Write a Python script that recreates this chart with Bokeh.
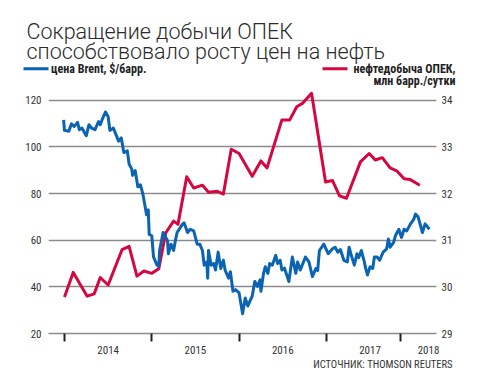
from bokeh.plotting import figure
from bokeh.layouts import column
from bokeh.models import Range1d, LinearAxis, FixedTicker
from bokeh.core.properties import value
from bokeh.embed import file_html
from bokeh.resources import INLINE

# ---------------- data ----------------
brent_x = [2013.99, 2014.00, 2014.05, 2014.08, 2014.11, 2014.15, 2014.17, 2014.20, 2014.25, 2014.28,
           2014.31, 2014.35, 2014.39, 2014.41, 2014.43, 2014.47, 2014.50, 2014.52, 2014.56, 2014.59,
           2014.62, 2014.65, 2014.68, 2014.72, 2014.74, 2014.77, 2014.78, 2014.81, 2014.84, 2014.87,
           2014.90, 2014.92, 2014.94, 2014.96, 2014.97, 2015.00, 2015.02, 2015.06, 2015.08, 2015.09,
           2015.13, 2015.18, 2015.19, 2015.22, 2015.25, 2015.27, 2015.29, 2015.35, 2015.37, 2015.41,
           2015.44, 2015.48, 2015.52, 2015.55, 2015.58, 2015.60, 2015.63, 2015.64, 2015.65, 2015.68,
           2015.71, 2015.73, 2015.76, 2015.79, 2015.82, 2015.84, 2015.88, 2015.90, 2015.93, 2015.96,
           2016.00, 2016.04, 2016.07, 2016.10, 2016.15, 2016.18, 2016.21, 2016.24, 2016.25, 2016.28,
           2016.30, 2016.33, 2016.35, 2016.38, 2016.42, 2016.44, 2016.47, 2016.49, 2016.52, 2016.57,
           2016.61, 2016.65, 2016.67, 2016.70, 2016.76, 2016.80, 2016.84, 2016.88, 2016.90, 2016.92,
           2016.97, 2017.02, 2017.07, 2017.10, 2017.13, 2017.16, 2017.20, 2017.24, 2017.26, 2017.28,
           2017.32, 2017.35, 2017.37, 2017.40, 2017.43, 2017.45, 2017.47, 2017.50, 2017.53, 2017.55,
           2017.58, 2017.61, 2017.65, 2017.69, 2017.71, 2017.73, 2017.77, 2017.79, 2017.83, 2017.86,
           2017.89, 2017.92, 2017.96, 2018.00, 2018.02, 2018.05, 2018.10, 2018.13, 2018.18]
brent_usd = [111.6, 107.1, 106.7, 109.9, 108.8, 110.5, 107.4, 108.1, 104.8, 109.5,
             108.1, 107.4, 110.9, 109.5, 111.6, 115.0, 113.0, 107.1, 108.1, 105.3,
             102.5, 103.9, 97.6, 98.3, 92.7, 90.6, 87.8, 89.9, 82.9, 83.8,
             79.4, 75.2, 70.9, 73.0, 62.5, 61.9, 52.8, 49.3, 48.9, 55.7,
             63.3, 59.8, 54.2, 58.3, 55.6, 59.8, 63.3, 66.8, 67.5, 63.3,
             64.7, 64.0, 58.3, 58.3, 55.6, 49.3, 50.7, 43.7, 55.6, 49.3,
             50.0, 47.2, 54.9, 47.9, 51.4, 47.2, 43.7, 46.5, 38.1, 38.8,
             37.4, 28.5, 35.2, 31.8, 36.0, 42.3, 40.2, 43.0, 38.1, 45.8,
             48.6, 45.8, 50.0, 49.3, 53.5, 50.0, 51.4, 47.2, 48.0, 42.3,
             52.8, 45.8, 50.7, 47.2, 52.8, 50.7, 44.4, 47.9, 47.0, 55.6,
             58.3, 54.2, 56.3, 57.0, 54.9, 56.0, 51.4, 50.7, 57.0, 54.2,
             49.3, 54.2, 52.5, 55.6, 51.4, 47.9, 45.1, 48.6, 47.9, 52.8,
             52.8, 51.4, 54.9, 56.3, 60.5, 57.0, 59.1, 61.9, 64.7, 61.2,
             64.7, 64.0, 66.8, 68.9, 71.2, 70.0, 63.3, 67.0, 64.7]

opec_x = [2014.00, 2014.10, 2014.26, 2014.34, 2014.41, 2014.50, 2014.66, 2014.74, 2014.83, 2014.91,
          2015.00, 2015.08, 2015.16, 2015.25, 2015.30, 2015.40, 2015.48, 2015.58, 2015.65, 2015.75,
          2015.82, 2015.91, 2016.00, 2016.15, 2016.25, 2016.32, 2016.49, 2016.58, 2016.66, 2016.73,
          2016.83, 2016.99, 2017.07, 2017.15, 2017.23, 2017.39, 2017.49, 2017.56, 2017.64, 2017.73,
          2017.81, 2017.89, 2017.96, 2018.07]
opec_mbd = [29.78, 30.31, 29.80, 29.85, 30.20, 30.04, 30.80, 30.87, 30.23, 30.34,
            30.29, 30.39, 31.16, 31.41, 31.34, 32.36, 32.12, 32.18, 32.03, 32.05,
            31.99, 32.95, 32.86, 32.37, 32.70, 32.55, 33.58, 33.58, 33.86, 33.94,
            34.15, 32.25, 32.28, 31.95, 31.90, 32.68, 32.86, 32.72, 32.77, 32.55,
            32.48, 32.32, 32.30, 32.18]

left_ticks = [20, 40, 60, 80, 100, 120]
right_ticks = [29, 30, 31, 32, 33, 34]
year_bounds = [2014.0, 2015.0, 2016.0, 2017.0, 2017.85]
year_label_pos = [2014.5, 2015.5, 2016.5, 2017.5, 2018.17]
year_labels = ["2014", "2015", "2016", "2017", "2018"]

title_lines = ["Сокращение добычи ОПЕК", "способствовало росту цен на нефть"]
brent_label = "цена Brent, $/барр."
opec_label = ["нефтедобыча ОПЕК,", "млн барр./сутки"]
source_label = "ИСТОЧНИК: THOMSON REUTERS"

# ---------------- styling ----------------
BLUE = "#0b63b3"
RED = "#d6063f"
GRID = "#8c8c8c"
TXT = "#333333"
NARROW = "Liberation Sans Narrow, Roboto Condensed, Liberation Sans"
TITLE_FONT = "Roboto Light, Roboto"

W = 481
HEAD_H = 90          # header band (title + legend)
CHART_H = 266        # chart band: frame 90..338, axis below to 356
FOOT_H = 380 - HEAD_H - CHART_H
FL, FR = 48, 436
PX_PER_UNIT = 2.38   # px per $ on the left scale

X0, X1 = 2013.817, 2018.261
Y0 = 20.0
Y1 = Y0 + (338 - HEAD_H) / PX_PER_UNIT
R0 = 29.0
R1 = R0 + (Y1 - Y0) / 20.0


def no_align(f):
    try:
        f.frame_align = False
    except Exception:
        pass
    return f


def blank(h):
    f = figure(width=W, height=h, output_backend="svg", toolbar_location=None,
               x_range=Range1d(0, W), y_range=Range1d(h, 0),
               x_axis_type=None, y_axis_type=None,
               min_border=0, min_border_left=0, min_border_right=0,
               min_border_top=0, min_border_bottom=0)
    f.outline_line_color = None
    f.grid.visible = False
    f.background_fill_color = "white"
    f.border_fill_color = "white"
    return no_align(f)


# ---------------- header ----------------
head = blank(HEAD_H)
head.text(x=[26, 26], y=[30.7, 50.7], text=title_lines,
          text_font=value(TITLE_FONT), text_font_size="21.5px", text_color="#2b2b2b",
          text_baseline="alphabetic", text_align="left")
head.line(x=[23, 48], y=[68.3, 68.3], line_color=BLUE, line_width=3)
head.text(x=[50.5], y=[68.3], text=[brent_label],
          text_font=value(NARROW), text_font_size="12px", text_font_style="bold",
          text_color="#222222", text_baseline="middle", text_align="left")
head.line(x=[322, 347], y=[68.3, 68.3], line_color=RED, line_width=3)
head.text(x=[455, 455], y=[68.3, 80.3], text=opec_label,
          text_font=value(NARROW), text_font_size="12px", text_font_style="bold",
          text_color="#222222", text_baseline="middle", text_align="right")

# ---------------- chart ----------------
p = figure(width=W, height=CHART_H, output_backend="svg", toolbar_location=None,
           x_range=Range1d(X0, X1), y_range=Range1d(Y0, Y1),
           min_border_left=FL, min_border_right=W - FR,
           min_border_top=0, min_border_bottom=CHART_H - (338 - HEAD_H))
no_align(p)
p.outline_line_color = None
p.background_fill_color = "white"
p.border_fill_color = "white"
p.extra_y_ranges = {"r": Range1d(R0, R1)}

p.xgrid.visible = False
p.ygrid.ticker = FixedTicker(ticks=left_ticks)
p.ygrid.grid_line_color = GRID
p.ygrid.grid_line_width = 1.6

la = p.yaxis[0]
la.ticker = FixedTicker(ticks=left_ticks)
la.axis_line_color = None
la.major_tick_line_color = None
la.major_tick_out = 0
la.minor_tick_line_color = None
la.major_label_text_font = NARROW
la.major_label_text_font_size = "11px"
la.major_label_text_color = TXT
la.major_label_standoff = 7

ra = LinearAxis(y_range_name="r", ticker=FixedTicker(ticks=right_ticks))
ra.axis_line_color = None
ra.major_tick_line_color = None
ra.major_tick_out = 0
ra.minor_tick_line_color = None
ra.major_label_text_font = NARROW
ra.major_label_text_font_size = "11px"
ra.major_label_text_color = TXT
ra.major_label_standoff = 5
p.add_layout(ra, "right")

xa = p.xaxis[0]
xa.ticker = FixedTicker(ticks=year_label_pos, minor_ticks=year_bounds)
xa.major_label_overrides = {t: s for t, s in zip(year_label_pos, year_labels)}
xa.axis_line_color = GRID
xa.axis_line_width = 1.6
xa.major_tick_line_color = None
xa.major_tick_out = 0
xa.major_tick_in = 0
xa.minor_tick_line_color = "#222222"
xa.minor_tick_line_width = 2
xa.minor_tick_in = 0
xa.minor_tick_out = 8
xa.major_label_text_font = NARROW
xa.major_label_text_font_size = "11px"
xa.major_label_text_color = TXT
xa.major_label_standoff = 4

p.line(opec_x, opec_mbd, y_range_name="r", line_color=RED, line_width=3, line_join="round")
p.line(brent_x, brent_usd, line_color=BLUE, line_width=3, line_join="round")

# ---------------- footer ----------------
foot = blank(FOOT_H)
foot.text(x=[452], y=[364 - HEAD_H - CHART_H], text=[source_label],
          text_font=value(NARROW), text_font_size="10.5px", text_color=TXT,
          text_baseline="middle", text_align="right")

layout = column(head, p, foot, spacing=0)
open("out.html", "w").write(file_html(layout, INLINE))
